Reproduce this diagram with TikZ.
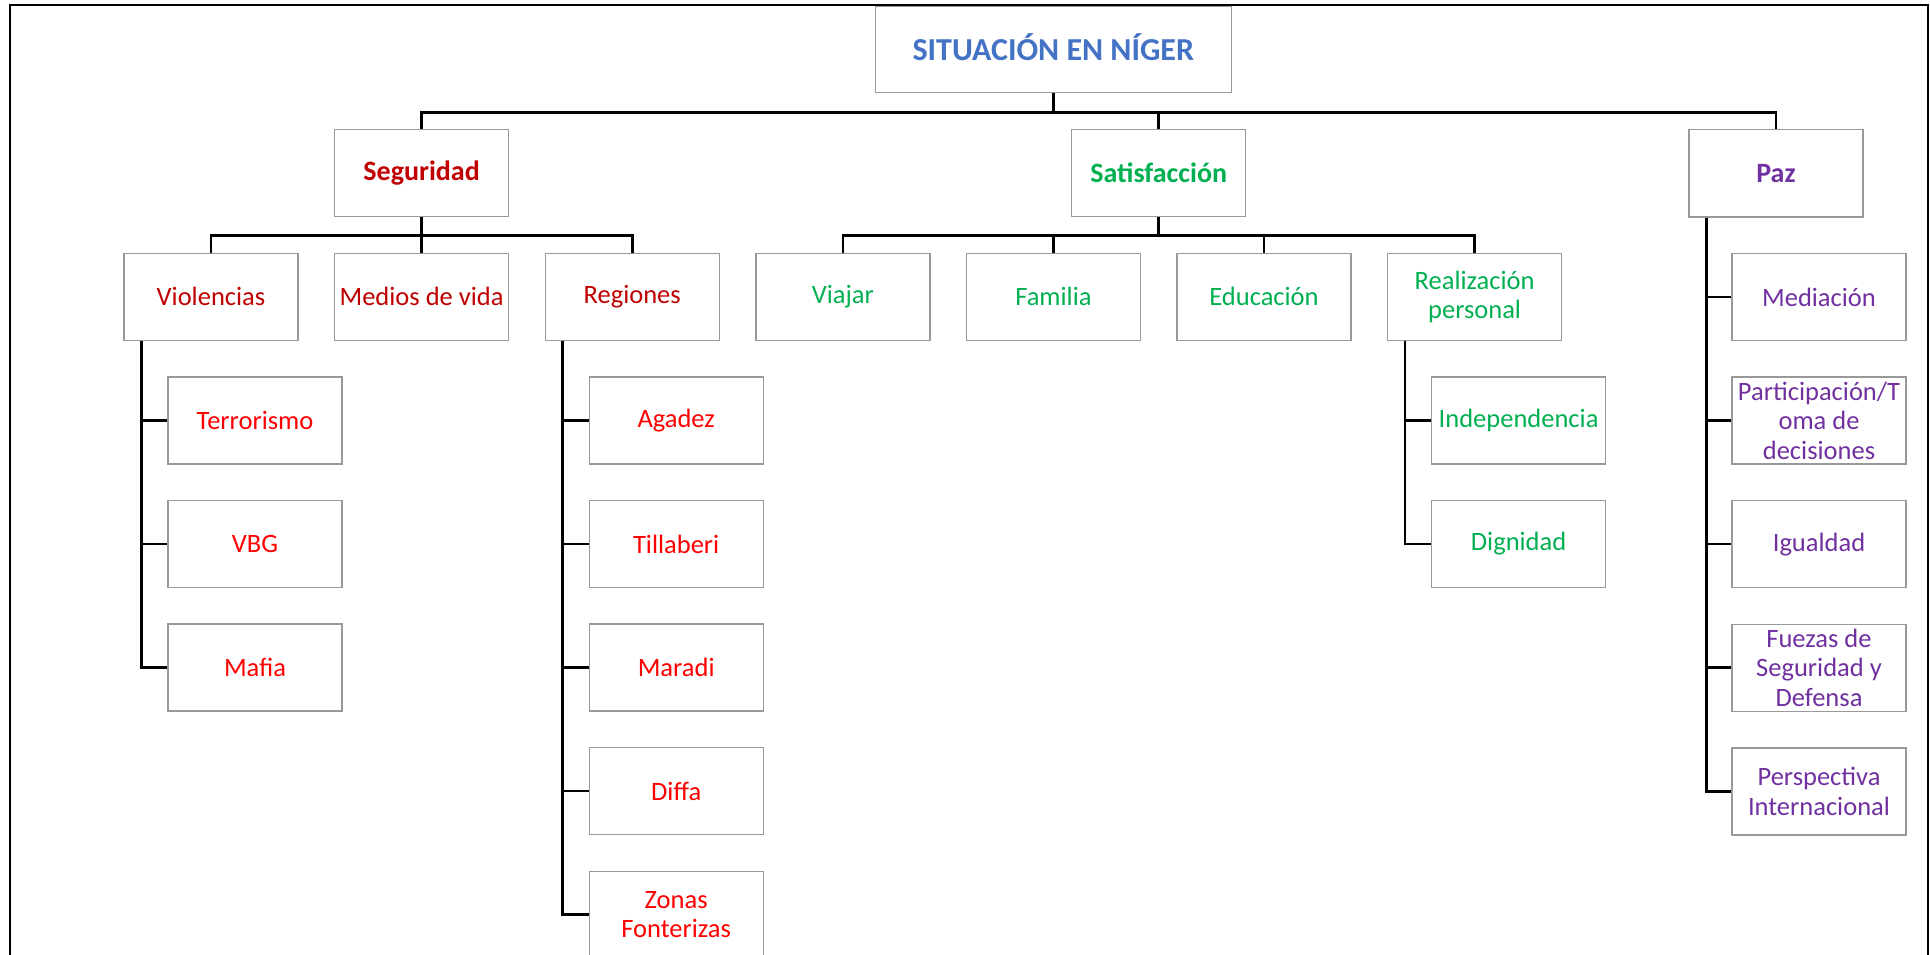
\documentclass[tikz,border=0pt]{standalone}
\usepackage{fontspec}
\setmainfont{Carlito}
\usetikzlibrary{positioning,calc}
\definecolor{azul}{HTML}{4472C4}
\definecolor{rojoosc}{HTML}{C00000}
\definecolor{rojo}{HTML}{FF0000}
\definecolor{verde}{HTML}{00B050}
\definecolor{morado}{HTML}{7030A0}
\definecolor{borde}{HTML}{999999}
\tikzset{
  caja/.style={rectangle, minimum width=174pt, minimum height=87pt, inner sep=2pt, align=center, draw=borde, line width=1.4pt, font=\fontsize{26.5}{29.5}\selectfont},
  tit/.style={caja, minimum width=356pt, minimum height=86pt, text height=21pt, text depth=0pt, text=azul, font=\fontsize{32}{36}\selectfont\bfseries},
  sg/.style={caja, text=rojoosc},
  sgb/.style={sg, font=\fontsize{28}{30}\selectfont\bfseries},
  rj/.style={caja, text=rojo},
  vd/.style={caja, text=verde},
  vdb/.style={vd, font=\fontsize{28}{30}\selectfont\bfseries},
  mr/.style={caja, text=morado},
  mrb/.style={mr, font=\fontsize{28}{30}\selectfont\bfseries},
  cn/.style={line width=2.6pt, black},
  node distance=35.2pt
}

\begin{document}
\begin{tikzpicture}[x=1pt, y=1pt]
	\useasboundingbox (0,0) rectangle (1930,-955);
	\draw[line width=1.5pt] (10,-970) -- (10,-5) -- (1928,-5) -- (1928,-970);

	\node[tit] (titulo) at (1053.3,-49.7) {SITUACIÓN EN NÍGER};

	% segundo nivel
	\node[sg] (violencias) at (211,-296.7) {Violencias};
	\node[sg, right=of violencias] (medios) {Medios de vida};
	\node[sg, right=of medios] (regiones) {Regiones};
	\node[vd, right=of regiones] (viajar) {Viajar};
	\node[vd, right=of viajar] (familia) {Familia};
	\node[vd, right=of familia] (educacion) {Educación};
	\node[vd, right=of educacion] (realizacion) {Realización\\personal};

	% primer nivel
	\node[sgb, above=of medios] (seguridad) {Seguridad};
	\node[vdb, above=of $(familia.north)!0.5!(educacion.north)$] (satisfaccion) {Satisfacción};
	\node[mrb] (paz) at (1776,-173.3) {Paz};

	% hojas
	\node[rj, below=of violencias, xshift=44pt] (terrorismo) {Terrorismo};
	\node[rj, below=of terrorismo] (vbg) {VBG};
	\node[rj, below=of vbg] (mafia) {Mafia};
	\node[rj, below=of regiones, xshift=44pt] (agadez) {Agadez};
	\node[rj, below=of agadez] (tillaberi) {Tillaberi};
	\node[rj, below=of tillaberi] (maradi) {Maradi};
	\node[rj, below=of maradi] (diffa) {Diffa};
	\node[rj, below=of diffa] (zonas) {Zonas\\Fonterizas};
	\node[vd, below=of realizacion, xshift=44pt] (independencia) {Independencia};
	\node[vd, below=of independencia] (dignidad) {Dignidad};
	\node[mr, below=of paz, xshift=43pt] (mediacion) {Mediación};
	\node[mr, below=of mediacion] (participacion) {Participación/T\\oma de\\decisiones};
	\node[mr, below=of participacion] (igualdad) {Igualdad};
	\node[mr, below=of igualdad] (fuerzas) {Fuezas de\\Seguridad y\\Defensa};
	\node[mr, below=of fuerzas] (perspectiva) {Perspectiva\\Internacional};

	% conectores
	\draw[cn] (titulo.south) -- ++(0,-19) coordinate (b0);
	\draw[cn] (seguridad.north) |- (b0) -| (paz.north);
	\draw[cn] (satisfaccion.north) -- (satisfaccion.north |- b0);
	\draw[cn] (seguridad.south) -- ++(0,-18) coordinate (b1);
	\draw[cn] (violencias.north) |- (b1) -| (regiones.north);
	\draw[cn] (medios.north) -- (medios.north |- b1);
	\draw[cn] (satisfaccion.south) -- ++(0,-18) coordinate (b2);
	\draw[cn] (viajar.north) |- (b2) -| (realizacion.north);
	\foreach \n in {familia,educacion}
		\draw[cn] (\n.north) -- (\n.north |- b2);

	\foreach \n in {terrorismo,vbg,mafia}
		\draw[cn] ([xshift=18pt]violencias.south west) |- (\n.west);
	\foreach \n in {agadez,tillaberi,maradi,diffa,zonas}
		\draw[cn] ([xshift=18pt]regiones.south west) |- (\n.west);
	\foreach \n in {independencia,dignidad}
		\draw[cn] ([xshift=18pt]realizacion.south west) |- (\n.west);
	\foreach \n in {mediacion,participacion,igualdad,fuerzas,perspectiva}
		\draw[cn] ([xshift=18pt]paz.south west) |- (\n.west);
\end{tikzpicture}
\end{document}
